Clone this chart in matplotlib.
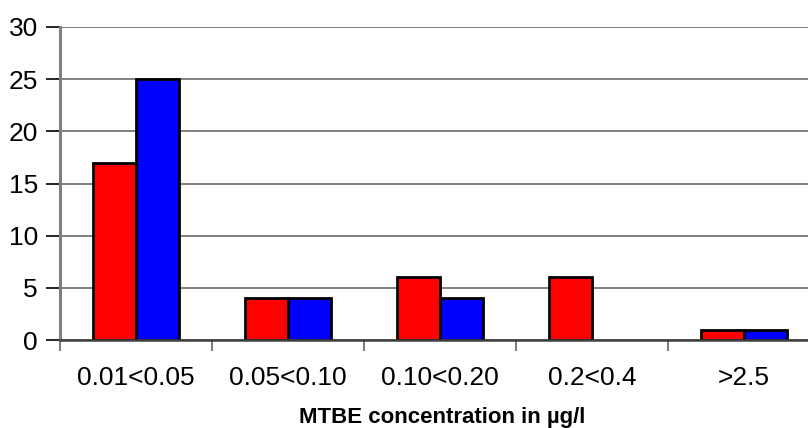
import numpy as np
import matplotlib
matplotlib.use("Agg")
import matplotlib.pyplot as plt

categories = ["0.01<0.05", "0.05<0.10", "0.10<0.20", "0.2<0.4", ">2.5"]
red_vals = [17, 4, 6, 6, 1]
blue_vals = [25, 4, 4, 0, 1]

plt.rcParams['font.family'] = ['Liberation Sans', 'DejaVu Sans']

fig = plt.figure(figsize=(8.08, 4.28), dpi=100)
ax = fig.add_axes([60 / 808, 88 / 428, 760 / 808, 313 / 428])

x = np.arange(len(categories)) + 0.5
w = 0.286
ax.bar(x - w / 2, red_vals, w, color='#ff0000', edgecolor='black', linewidth=2, zorder=3)
ax.bar(x + w / 2, [v if v > 0 else np.nan for v in blue_vals], w, color='#0000ff',
       edgecolor='black', linewidth=2, zorder=3)

ax.set_xlim(0, len(categories))
ax.set_ylim(0, 30)
ax.set_yticks(range(0, 31, 5))
ax.yaxis.grid(True, color='#808080', linewidth=1.4, zorder=0)
ax.set_axisbelow(True)

ax.set_xticks(np.arange(len(categories) + 1))
ax.set_xticklabels([])
ax.set_xticks(x, minor=True)
ax.set_xticklabels(categories, minor=True, fontsize=19)
ax.tick_params(axis='x', which='major', length=8, width=1.5, color='#808080', direction='out')
ax.tick_params(axis='x', which='minor', length=0, pad=19)
ax.tick_params(axis='y', length=10, width=1.2, color='black', labelsize=19, pad=6)

for s in ['top', 'right']:
    ax.spines[s].set_visible(False)
ax.spines['left'].set_color('#808080')
ax.spines['left'].set_linewidth(2.2)
ax.spines['bottom'].set_color('#404040')
ax.spines['bottom'].set_linewidth(1.8)
ax.spines['bottom'].set_zorder(4)

fig.text(442 / 808, 1 - 418 / 428, "MTBE concentration in µg/l", ha='center', va='center',
         fontsize=16, fontweight='bold')

fig.savefig("out.png", dpi=100)
